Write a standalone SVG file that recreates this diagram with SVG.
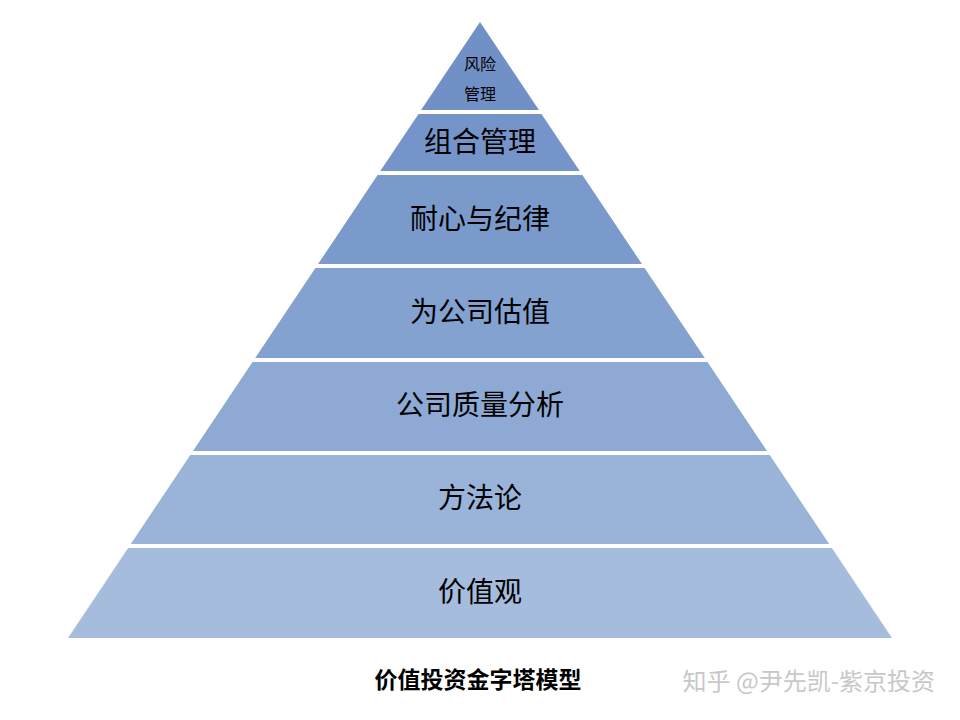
<svg xmlns="http://www.w3.org/2000/svg" width="960" height="720" viewBox="0 0 960 720">
<style>
.t{font-family:"Liberation Serif","Noto Sans CJK SC",serif;font-size:28px;fill:#000;text-anchor:middle}
.s{font-family:"Noto Sans CJK SC",sans-serif;font-size:16px;fill:#000;text-anchor:middle}
</style>
<rect width="960" height="720" fill="#fff"/>
<g id="l1"><polygon points="480,22 538.9,110 421.1,110" fill="#7090c6"/><text class="s" x="480" y="70">风险</text><text class="s" x="480" y="100">管理</text></g>
<g id="l2"><polygon points="418.5,114 541.5,114 579.7,171 380.3,171" fill="#7595ca"/><text class="t" x="480" y="152">组合管理</text></g>
<g id="l3"><polygon points="377.6,175 582.4,175 641.9,264 318.1,264" fill="#7b9acc"/><text class="t" x="480" y="229">耐心与纪律</text></g>
<g id="l4"><polygon points="315.4,268 644.6,268 704.8,358 255.2,358" fill="#84a2d0"/><text class="t" x="480" y="322">为公司估值</text></g>
<g id="l5"><polygon points="252.5,362 707.5,362 767,451 193,451" fill="#8eaad4"/><text class="t" x="480" y="415">公司质量分析</text></g>
<g id="l6"><polygon points="190.3,455 769.7,455 829.2,544 130.8,544" fill="#9ab3d9"/><text class="t" x="480" y="508">方法论</text></g>
<g id="l7"><polygon points="128.1,548 831.9,548 892,638 68,638" fill="#a6bcdd"/><text class="t" x="480" y="602">价值观</text></g>
<g id="connectors"/>
<text x="478" y="688" font-family="Liberation Serif,Noto Sans CJK SC,serif" font-size="23" font-weight="bold" text-anchor="middle">价值投资金字塔模型</text>
<text x="935" y="690" font-family="Noto Sans CJK SC,sans-serif" font-size="24" fill="#c8c8c8" text-anchor="end">知乎 @尹先凯-紫京投资</text>
</svg>
